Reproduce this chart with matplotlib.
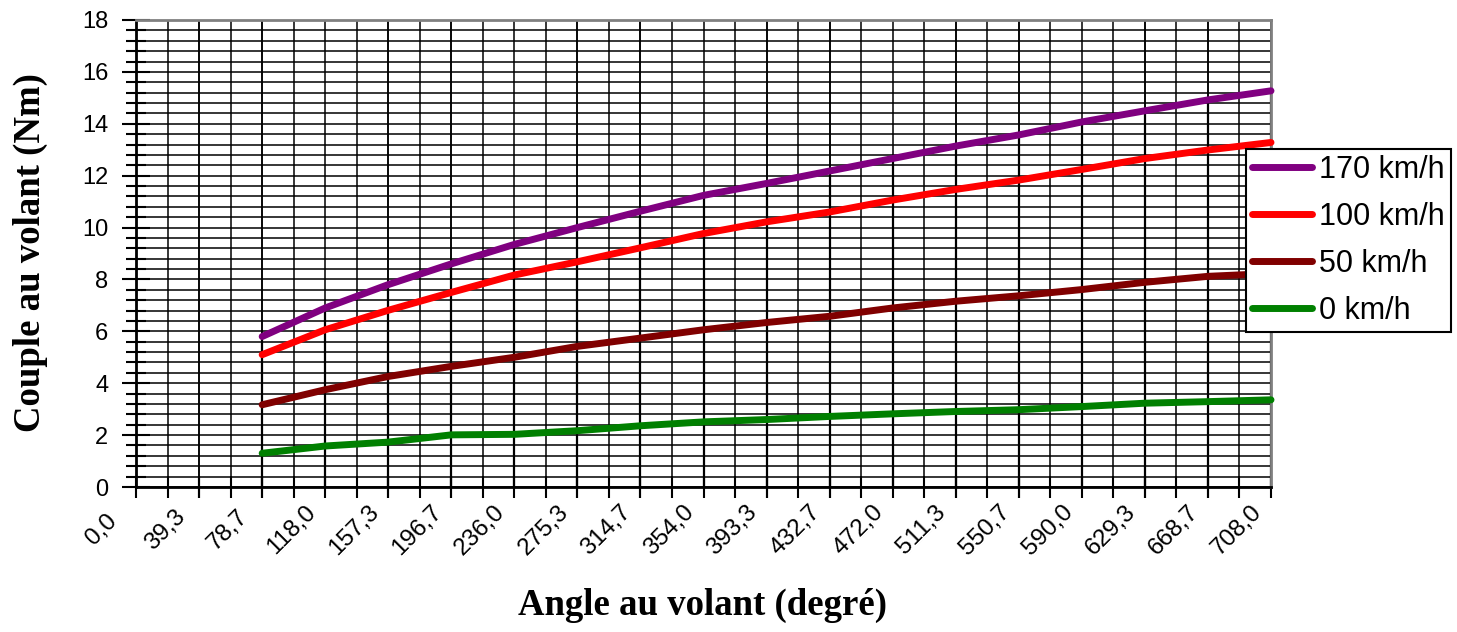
import matplotlib
matplotlib.use("Agg")
import matplotlib.pyplot as plt
from matplotlib.ticker import MultipleLocator, FixedLocator
from matplotlib.transforms import ScaledTranslation

# angle au volant (degre) - points mesures
angles = [78.7, 118.0, 157.3, 196.7, 236.0, 275.3, 314.7, 354.0, 393.3,
          432.7, 472.0, 511.3, 550.7, 590.0, 629.3, 668.7, 708.0]

# couple au volant (Nm) pour chaque vitesse
v170 = [5.8, 6.9, 7.8, 8.6, 9.35, 10.0, 10.63, 11.24, 11.7, 12.18, 12.66,
        13.14, 13.57, 14.07, 14.5, 14.92, 15.27]
v100 = [5.1, 6.06, 6.81, 7.5, 8.17, 8.68, 9.22, 9.77, 10.22, 10.6, 11.06,
        11.47, 11.83, 12.24, 12.66, 12.99, 13.28]
v50 = [3.17, 3.75, 4.26, 4.65, 5.0, 5.42, 5.74, 6.06, 6.34, 6.58, 6.9,
       7.16, 7.37, 7.61, 7.89, 8.12, 8.23]
v0 = [1.3, 1.58, 1.73, 2.01, 2.03, 2.17, 2.36, 2.51, 2.6, 2.72, 2.82,
      2.91, 2.98, 3.1, 3.23, 3.29, 3.36]

series_names = ["170 km/h", "100 km/h", "50 km/h", "0 km/h"]
series_colors = ["#800080", "#ff0000", "#800000", "#008000"]

xlabels = ["0,0", "39,3", "78,7", "118,0", "157,3", "196,7", "236,0", "275,3",
           "314,7", "354,0", "393,3", "432,7", "472,0", "511,3", "550,7",
           "590,0", "629,3", "668,7", "708,0"]
xpos = [float(s.replace(",", ".")) for s in xlabels]

W, H = 1457, 632
fig = plt.figure(figsize=(W / 100, H / 100), dpi=100)
ax = fig.add_axes([136 / W, 145 / H, (1271 - 136) / W, (487 - 20) / H])

# drop lines from the top series
ax.vlines(angles, 0, v170, colors="black", lw=1.6, zorder=2)

for vals, name, col in zip([v170, v100, v50, v0], series_names, series_colors):
    ax.plot(angles, vals, color=col, lw=5, solid_capstyle="round",
            solid_joinstyle="round", label=name, zorder=3, clip_on=False)

ax.set_xlim(0, 708)
ax.set_ylim(0, 18)

ax.xaxis.set_major_locator(FixedLocator(xpos))
ax.xaxis.set_minor_locator(MultipleLocator(708 / 36))
ax.set_xticklabels(xlabels)
ax.yaxis.set_major_locator(MultipleLocator(2))
ax.yaxis.set_minor_locator(MultipleLocator(0.4))

ax.grid(which="both", axis="both", color="black", lw=1.1, zorder=1)
ax.set_axisbelow(True)

ax.tick_params(axis="y", which="major", direction="inout", length=20, width=1.5,
               pad=10)
ax.tick_params(axis="y", which="minor", direction="inout", length=14, width=1.5)
ax.tick_params(axis="x", which="both", direction="inout", length=16, width=1.5,
               pad=23)

for lab in ax.get_yticklabels():
    lab.set_fontfamily("Liberation Sans")
    lab.set_fontsize(17)
off = ScaledTranslation(-34 / 100, 0, fig.dpi_scale_trans)
for lab in ax.get_xticklabels():
    lab.set_fontfamily("Liberation Sans")
    lab.set_fontsize(17.5)
    lab.set_rotation(45)
    lab.set_ha("center")
    lab.set_va("center")
    lab.set_rotation_mode("anchor")
    lab.set_transform(lab.get_transform() + off)

for side in ["left", "bottom"]:
    ax.spines[side].set_color("black")
    ax.spines[side].set_linewidth(2)
for side in ["top", "right"]:
    ax.spines[side].set_color("#808080")
    ax.spines[side].set_linewidth(2)

ax.set_xlabel("Angle au volant (degré)", fontfamily="Liberation Serif",
              fontweight="bold", fontsize=26.5)
ax.xaxis.set_label_coords(702 / W, 9 / H, transform=fig.transFigure)
ax.set_ylabel("Couple au volant (Nm)", fontfamily="Liberation Serif",
              fontweight="bold", fontsize=26.5)
ax.yaxis.set_label_coords(30 / W, (H - 253) / H, transform=fig.transFigure)
ax.xaxis.label.set_va("bottom")
ax.yaxis.label.set_va("center")

leg = ax.legend(loc="upper left", bbox_to_anchor=(1246 / W, 1 - 149 / H),
                bbox_transform=fig.transFigure, frameon=True, fancybox=False,
                prop={"family": "Liberation Sans", "size": 22},
                handlelength=1.95, handletextpad=0.25, labelspacing=0.55,
                borderpad=0.2, borderaxespad=0)
leg.get_frame().set_edgecolor("black")
leg.get_frame().set_linewidth(1.5)
leg.get_frame().set_alpha(1)
leg.set_zorder(5)

fig.savefig("out.png", dpi=100)
